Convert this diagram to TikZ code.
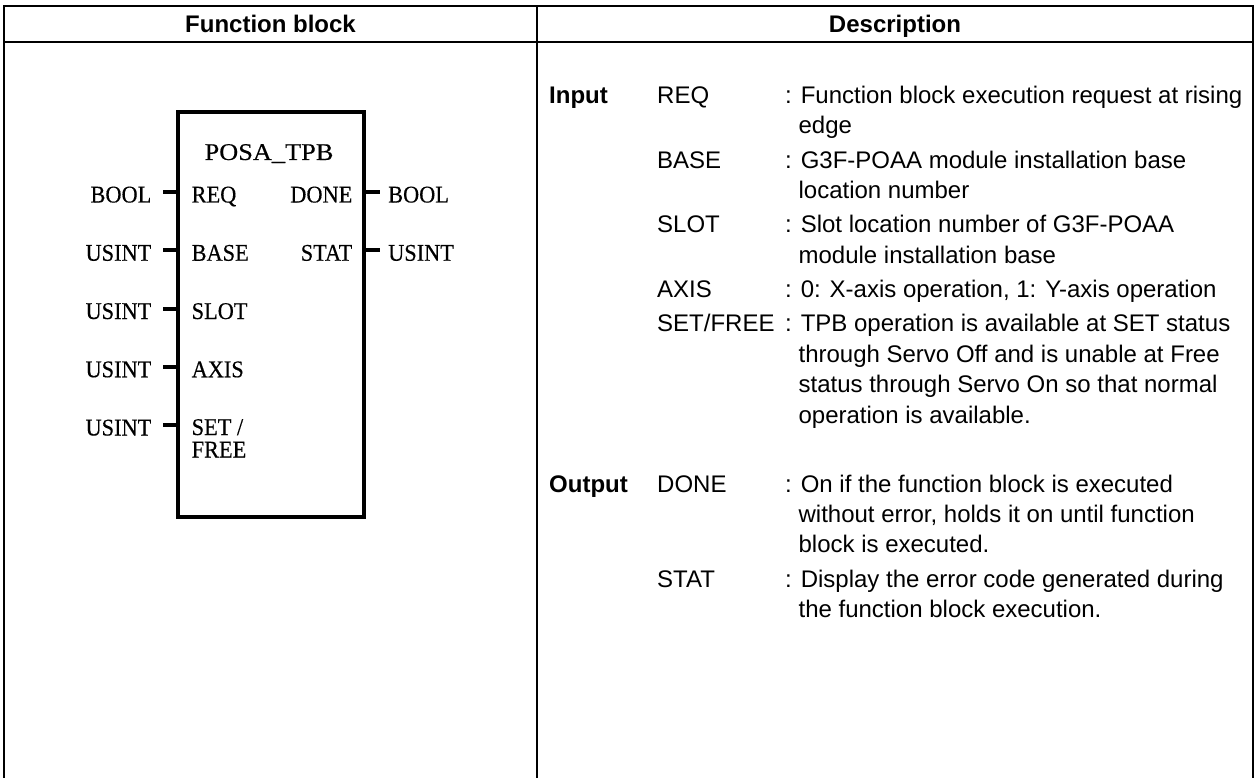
\documentclass[tikz,border=0pt]{standalone}
\usepackage{fontspec}
\usepackage{graphicx}
\setmainfont{Liberation Serif}
\newfontfamily\fbfont[FakeStretch=0.93,FakeBold=0.3]{Liberation Serif}
\newfontfamily\arial{Liberation Sans}
\begin{document}
\begin{tikzpicture}[x=1pt,y=-1pt,
  tbl/.style={line width=2.2pt},
  fbox/.style={draw,line width=4pt,minimum width=186.5pt,minimum height=405.3pt,inner sep=0pt},
  stub/.style={line width=4pt},
  ser/.style={font=\fbfont\fontsize{24}{24}\selectfont, inner sep=0pt},
  hdr/.style={font=\arial\bfseries\fontsize{24}{28}\selectfont, inner sep=0pt, anchor=base},
  dsc/.style={font=\arial\fontsize{24}{30}\selectfont, inner sep=0pt, anchor=base west},
  dscb/.style={font=\arial\bfseries\fontsize{24}{30}\selectfont, inner sep=0pt, anchor=base west}]
\useasboundingbox (0,0) rectangle (1256,778);
\fill[white] (0,0) rectangle (1256,778);
% table frame
\coordinate (bl) at (4,778);
\coordinate (tl) at (4,6);
\coordinate (tr) at (1253,6);
\coordinate (br) at (1253,778);
\coordinate (hl) at (4,42);
\coordinate (hr) at (1253,42);
\coordinate (dt) at (537,6);
\coordinate (db) at (537,778);
\draw[tbl] (bl) -- (tl) -- (tr) -- (br);
\draw[tbl] (hl) -- (hr);
\draw[tbl] (dt) -- (db);
\node[hdr] (h1) at (270.5,32.5) {Function block};
\node[hdr] (h2) at (895,32.5) {Description};
% function block
\node[fbox] (fb) at (270.75,314.65) {};
\node[ser, anchor=base] (fbname) at (269,160) {\scalebox{1.18}[1]{POSA\_TPB}};
\foreach \i/\y/\t/\nm in {1/192/BOOL/REQ, 2/250.25/USINT/BASE, 3/308.5/USINT/SLOT, 4/366.75/USINT/AXIS, 5/425/USINT/{}}{
  \coordinate (ia\i) at (177.5,\y);
  \coordinate (ib\i) at (162.5,\y);
  \draw[stub] (ia\i) -- (ib\i);
  \node[ser, anchor=base east] (it\i) at (151.5,\y+10.5) {\t};
  \node[ser, anchor=base west] (in\i) at (191.5,\y+10.5) {\nm};
}
\node[ser, anchor=base west] (in5a) at (191.5,435) {SET /};
\node[ser, anchor=base west] (in5b) at (191.5,457.5) {FREE};
\foreach \i/\y/\t/\nm in {1/192/BOOL/DONE, 2/250.25/USINT/STAT}{
  \coordinate (oa\i) at (364,\y);
  \coordinate (ob\i) at (379.5,\y);
  \draw[stub] (oa\i) -- (ob\i);
  \node[ser, anchor=base east] (on\i) at (352.5,\y+10.5) {\nm};
  \node[ser, anchor=base west] (ot\i) at (388,\y+10.5) {\t};
}
% description
\def\cx{785}
\def\tx{798.4}
\node[dscb] (lin) at (549,103.5) {Input};
\node[dsc] (n1) at (657,103.5) {REQ};
\node[dsc] (d1a) at (\cx,103.5) {: Function block execution request at rising};
\node[dsc] (d1b) at (\tx,133.5) {edge};
\node[dsc] (n2) at (657,168.5) {BASE};
\node[dsc] (d2a) at (\cx,168.5) {: G3F-POAA module installation base};
\node[dsc] (d2b) at (\tx,198.5) {location number};
\node[dsc] (n3) at (657,233) {SLOT};
\node[dsc] (d3a) at (\cx,233) {: Slot location number of G3F-POAA};
\node[dsc] (d3b) at (\tx,263) {module installation base};
\node[dsc] (n4) at (657,298) {AXIS};
\node[dsc] (d4a) at (\cx,298) {: 0: X-axis operation, 1: Y-axis operation};
\node[dsc] (n5) at (657,331.5) {SET/FREE};
\node[dsc] (d5a) at (\cx,331.5) {: TPB operation is available at SET status};
\node[dsc] (d5b) at (\tx,362) {through Servo Off and is unable at Free};
\node[dsc] (d5c) at (\tx,392.5) {status through Servo On so that normal};
\node[dsc] (d5d) at (\tx,423) {operation is available.};
\node[dscb] (lout) at (549,492) {Output};
\node[dsc] (n6) at (657,492) {DONE};
\node[dsc] (d6a) at (\cx,492) {: On if the function block is executed};
\node[dsc] (d6b) at (\tx,522) {without error, holds it on until function};
\node[dsc] (d6c) at (\tx,552) {block is executed.};
\node[dsc] (n7) at (657,587) {STAT};
\node[dsc] (d7a) at (\cx,587) {: Display the error code generated during};
\node[dsc] (d7b) at (\tx,617) {the function block execution.};
\end{tikzpicture}
\end{document}
